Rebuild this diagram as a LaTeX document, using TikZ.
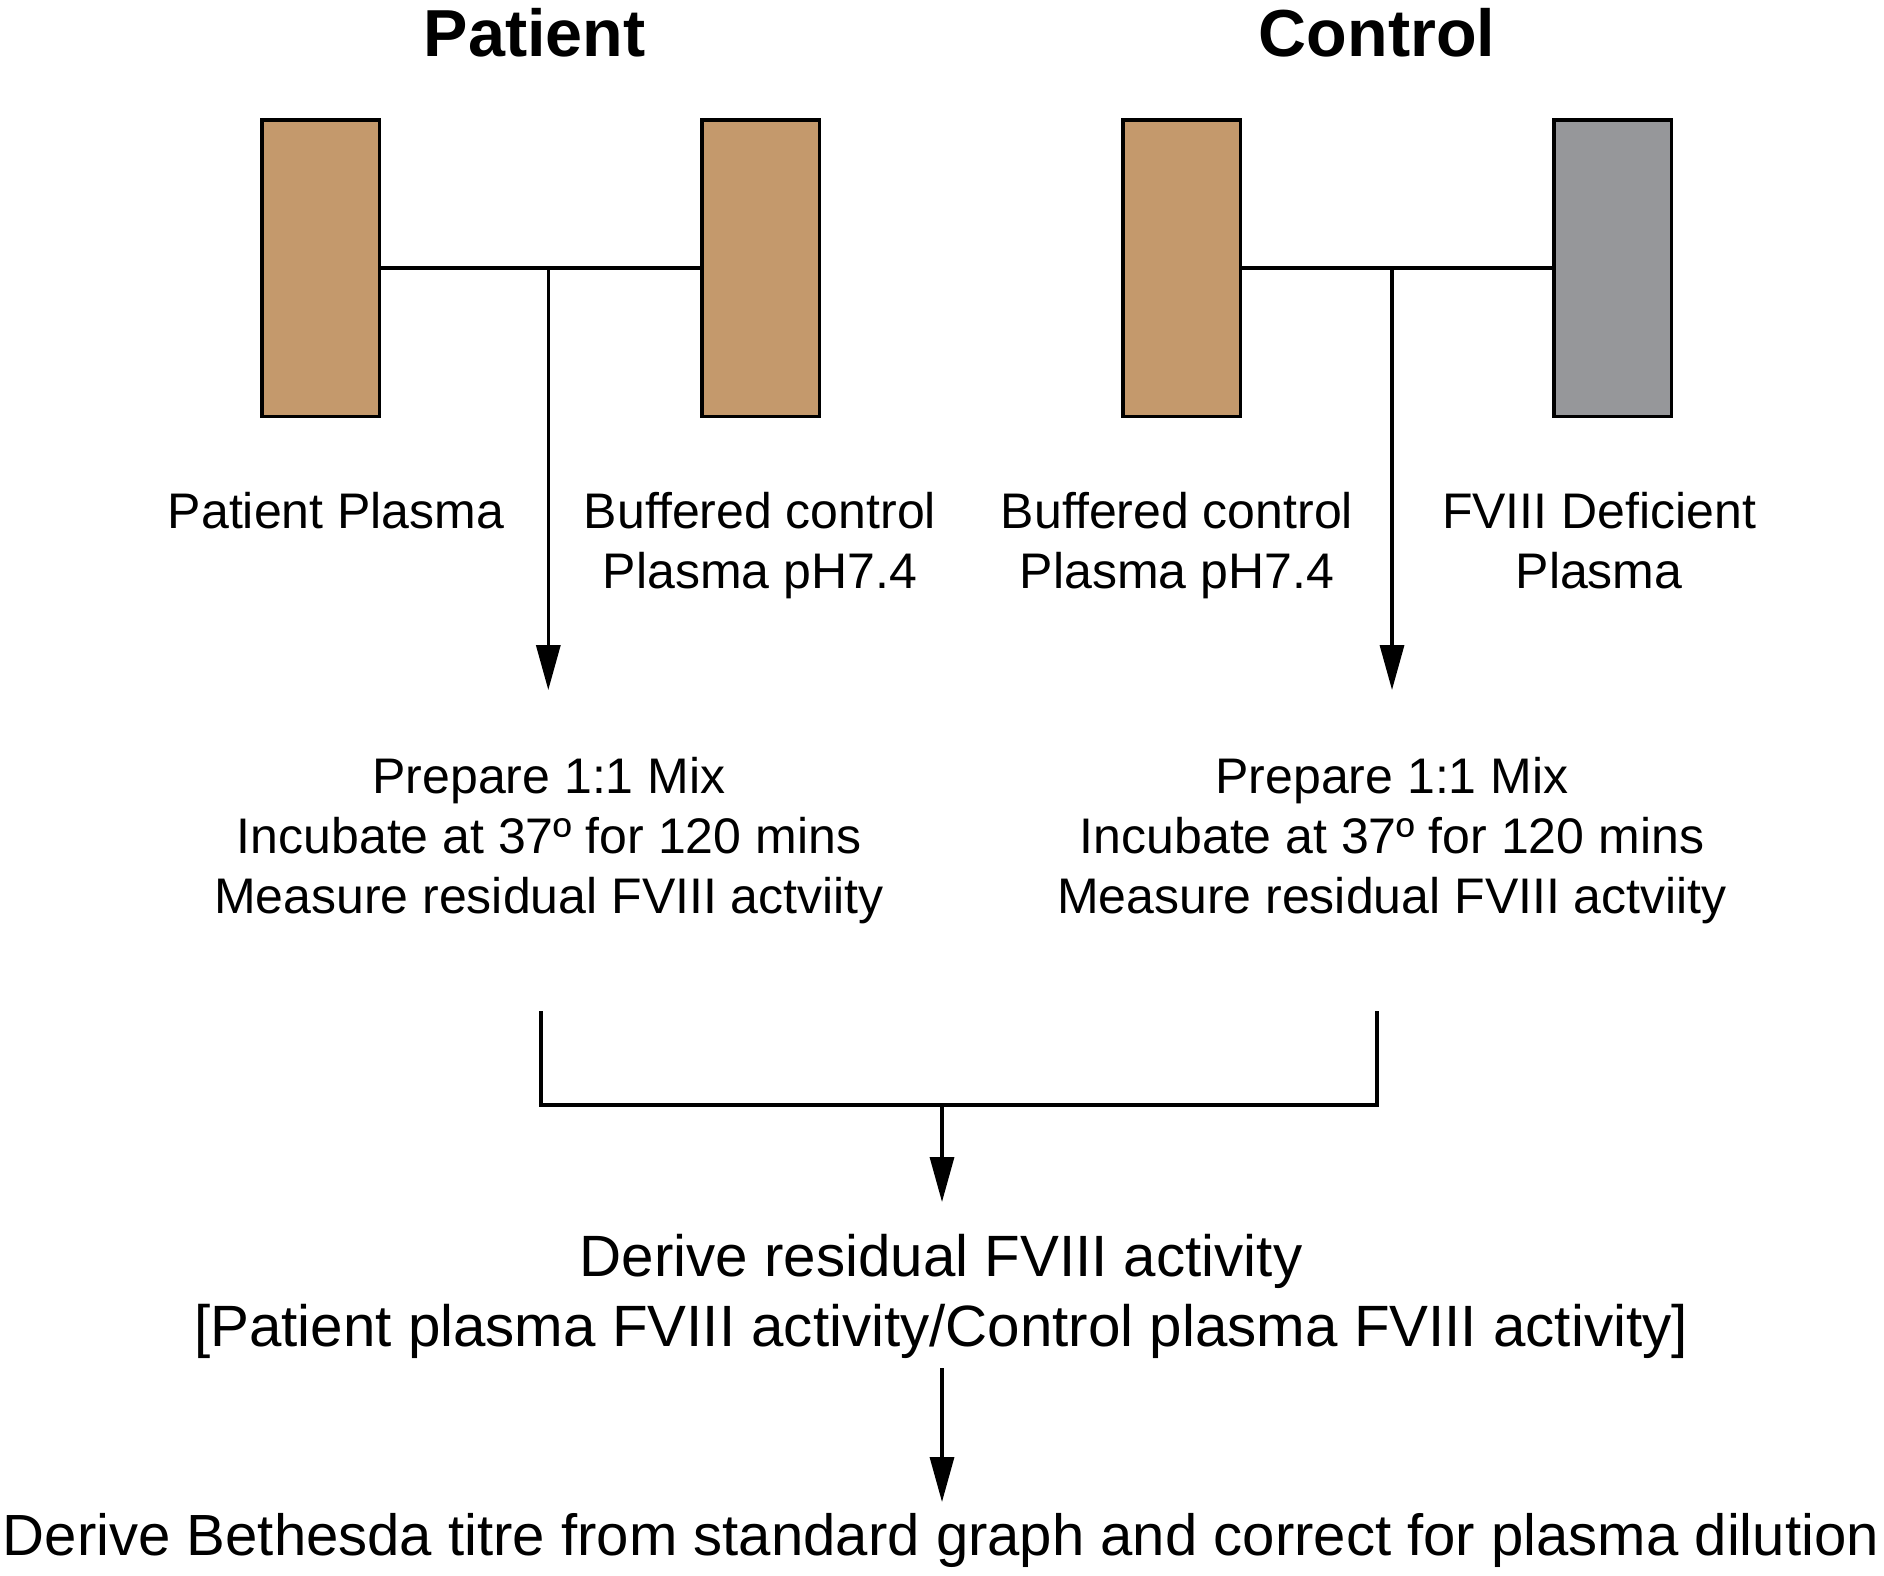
\documentclass[tikz,border=0pt]{standalone}
\usepackage{fontspec}
\setmainfont{Liberation Sans}
\usetikzlibrary{arrows.meta}
\definecolor{tan}{HTML}{C4996C}
\definecolor{greybox}{HTML}{96979A}
\begin{document}
\begin{tikzpicture}[x=1pt,y=-1pt,
  tube/.style={draw=black, line width=3.5pt, minimum width=117.5pt, minimum height=296.5pt, inner sep=0pt},
  conn/.style={line width=3.3pt},
  arr/.style={line width=3.3pt, -{Triangle[length=45pt,width=24pt]}},
  title/.style={font=\fontsize{66.5}{78}\selectfont\bfseries, anchor=base, inner sep=0pt},
  lbl/.style={font=\fontsize{50}{60}\selectfont, align=center, anchor=base, inner sep=0pt},
  big/.style={font=\fontsize{58.3}{70}\selectfont, align=center, anchor=base, inner sep=0pt}]
\useasboundingbox (0,0) rectangle (1884,1575);
\fill[white] (0,0) rectangle (1884,1575);
% titles
\node[title] (tP) at (534.7,56.7) {Patient};
\node[title] (tC) at (1377,56.7) {Control};
% boxes
\node[tube, fill=tan] (b1) at (320.5,268) {};
\node[tube, fill=tan] (b2) at (760.5,268) {};
\node[tube, fill=tan] (b3) at (1181.5,268) {};
\node[tube, fill=greybox] (b4) at (1612.5,268) {};
% junctions
\coordinate (jP) at (548.3,268);
\coordinate (jC) at (1392,268);
\coordinate (aP) at (548.3,690);
\coordinate (aC) at (1392,690);
\draw[conn] (b1.east) -- (b2.west);
\draw[conn] (b3.east) -- (b4.west);
\draw[arr] (jP) -- (aP);
\draw[arr] (jC) -- (aC);
% labels
\node[lbl] (l1) at (336,528) {Patient Plasma};
\node[lbl] (l2) at (760,588) {Buffered control\\Plasma pH7.4};
\node[lbl] (l3) at (1177,588) {Buffered control\\Plasma pH7.4};
\node[lbl] (l4) at (1599,588) {FVIII Deficient\\Plasma};
% mix text
\node[lbl] (m1) at (549,913) {Prepare 1:1 Mix\\Incubate at 37º for 120 mins\\Measure residual FVIII actviity};
\node[lbl] (m2) at (1392,913) {Prepare 1:1 Mix\\Incubate at 37º for 120 mins\\Measure residual FVIII actviity};
% bracket
\coordinate (k1) at (541,1011);
\coordinate (k2) at (1377,1011);
\coordinate (k1b) at (541,1105);
\coordinate (k2b) at (1377,1105);
\coordinate (km) at (942,1105);
\coordinate (kt) at (942,1202);
\draw[conn] (k1) -- (k1b) -- (k2b) -- (k2);
\draw[arr] (km) -- (kt);
% derive
\node[big] (d1) at (941,1346) {Derive residual FVIII activity\\{[}Patient plasma FVIII activity/Control plasma FVIII activity{]}};
\coordinate (d1b) at (942,1368);
\coordinate (d2t) at (942,1502);
\draw[arr] (d1b) -- (d2t);
\node[big, font=\fontsize{58.1}{70}\selectfont] (d2) at (941,1555) {Derive Bethesda titre from standard graph and correct for plasma dilution};
\end{tikzpicture}
\end{document}
